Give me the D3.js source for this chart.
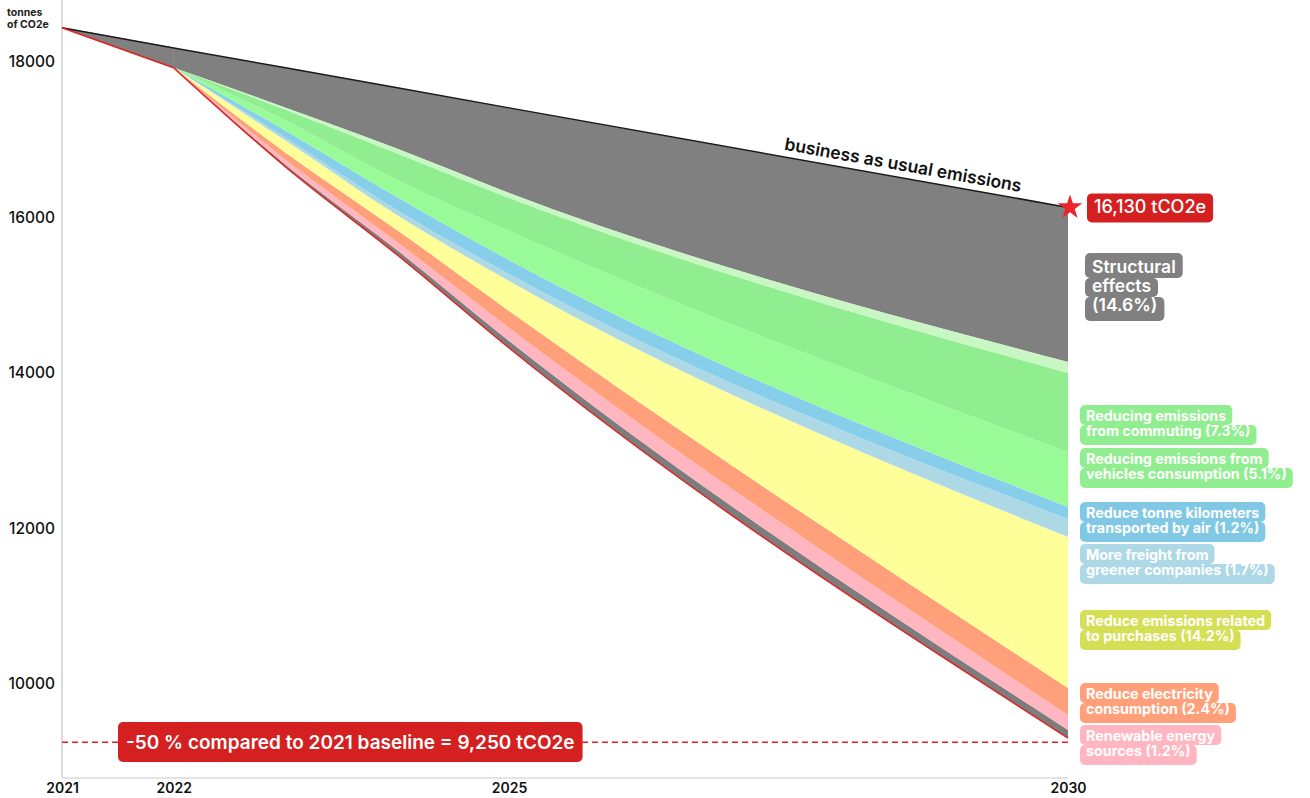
<!DOCTYPE html>
<html>
<head>
<meta charset="utf-8">
<script src="https://cdn.jsdelivr.net/npm/d3@7"></script>
<style>
  body { margin: 0; background: #fff; }
  svg { display: block; font-family: Inter, "Noto Sans", sans-serif; }
</style>
</head>
<body>
<div id="plot"></div>
<script>
// years (only 2021, 2022, 2025, 2030 are labelled)
const years = [2021, 2022, 2023, 2024, 2025, 2030];
const tickYears = [2021, 2022, 2025, 2030];
const tickValues = [10000, 12000, 14000, 16000, 18000];

// business as usual line and the reduced trajectory (tonnes CO2e)
const bau = [18440, 18180, 17925, 17670, 17410, 16130];
const actual = [18440, 17925, 16650, 15518, 14322, 9305];

// reduction layers, bottom to top (tonnes removed each year)
const otherBase = [0, 0, 30, 60, 90, 103];
const renewable = [0, 0, 64, 103, 168, 193];
const electricity = [0, 0, 90, 155, 218, 348];
const purchases = [0, 0, 155, 192, 386, 1942];
const freight = [0, 0, 38, 65, 90, 231];
const air = [0, 0, 90, 167, 180, 155];
const vehicles = [0, 0, 129, 219, 373, 707];
const commuting = [0, 0, 141, 345, 425, 1016];
const commutingTop = [0, 0, 26, 60, 64, 141];

const baseline = 9250;
const target = 16130;

const layerKeys = ['otherBase', 'renewable', 'electricity', 'purchases', 'freight', 'air', 'vehicles', 'commuting', 'commutingTop'];
const layerValues = { otherBase, renewable, electricity, purchases, freight, air, vehicles, commuting, commutingTop };
const layerColors = {
    otherBase: '#7d7d7d', renewable: '#ffb6c1', electricity: '#ffa07a', purchases: '#ffff99',
    freight: '#add8e6', air: '#87ceeb', vehicles: '#98fb98', commuting: '#90ee90', commutingTop: '#c9f7c3'
};

// right hand labels
const labelTexts = [
    ['Structural', 'effects', '(14.6%)'],
    ['Reducing emissions', 'from commuting (7.3%)'],
    ['Reducing emissions from', 'vehicles consumption (5.1%)'],
    ['Reduce tonne kilometers', 'transported by air  (1.2%)'],
    ['More freight from', 'greener companies (1.7%)'],
    ['Reduce emissions related', 'to purchases (14.2%)'],
    ['Reduce electricity', 'consumption (2.4%)'],
    ['Renewable energy', 'sources (1.2%)']
];
const labelColors = ['#808080', '#90ee90', '#90ee90', '#80c8e3', '#add8e6', '#d4df55', '#ffa07a', '#ffb6c1'];

const W = 1310, H = 798;
const svg = d3.select('#plot').append('svg').attr('width', W).attr('height', H);

// scales
let x = d3.scaleLinear().domain([2021, 2030]).range([62, 1068]);
let y = d3.scaleLinear().domain([10000, 18000]).range([684, 62]);

// table for the stack
let rows = years.map((yr, i) => {
    let r = { year: yr, actual: actual[i], bau: bau[i] };
    layerKeys.forEach(k => r[k] = layerValues[k][i]);
    return r;
});
let series = d3.stack().keys(layerKeys)(rows);
let stackTop = series[series.length - 1];

// axes lines
svg.append('line').attr('x1', 62).attr('x2', 62).attr('y1', 0).attr('y2', 778)
    .attr('stroke', '#dcdcdc').attr('stroke-width', 2);
svg.append('line').attr('x1', 62).attr('x2', 1068).attr('y1', 778).attr('y2', 778)
    .attr('stroke', '#e4e4e4').attr('stroke-width', 2);

// first year is a straight drop, reductions start in 2022 and bend smoothly
let smooth = d3.curveMonotoneX;

// structural effects: between top of the stack and business as usual
let structArea = d3.area()
    .x(d => x(d.data.year))
    .y0(d => y(d[1] + d.data.actual))
    .y1(d => y(d.data.bau));
svg.append('path').datum(stackTop.slice(0, 2)).attr('d', structArea)
    .attr('fill', '#808080').attr('stroke', '#808080').attr('stroke-width', 0.8);
svg.append('path').datum(stackTop.slice(1)).attr('d', structArea.curve(smooth))
    .attr('fill', '#808080');

let area = d3.area()
    .x(d => x(d.data.year))
    .y0(d => y(d[0] + d.data.actual))
    .y1(d => y(d[1] + d.data.actual))
    .curve(smooth);
svg.selectAll('path.layer').data(series).enter()
    .append('path')
    .attr('class', 'layer')
    .attr('d', d => area(d.slice(1)))
    .attr('fill', d => layerColors[d.key]);

// lines
let valLine = d3.line().x(d => x(d.year)).y(d => y(d.v));
let bauPts = years.map((yr, i) => ({ year: yr, v: bau[i] }));
let actPts = years.map((yr, i) => ({ year: yr, v: actual[i] }));
svg.append('path').datum(bauPts).attr('d', valLine)
    .attr('fill', 'none').attr('stroke', '#1a1a1a').attr('stroke-width', 1.5);
svg.append('path').datum(actPts.slice(0, 2)).attr('d', valLine)
    .attr('fill', 'none').attr('stroke', '#e42222').attr('stroke-width', 1.5);
svg.append('path').datum(actPts.slice(1)).attr('d', valLine.curve(smooth))
    .attr('fill', 'none').attr('stroke', '#e42222').attr('stroke-width', 1.5);

// y axis
let yAxis = d3.axisLeft(y).tickValues(tickValues).tickSize(0).tickPadding(5).tickFormat(d3.format('d'));
let gy = svg.append('g').attr('transform', 'translate(60,0)').call(yAxis);
gy.select('.domain').remove();
gy.selectAll('text').attr('font-family', 'Inter, sans-serif').attr('font-size', 15.5)
    .attr('font-weight', 500).attr('fill', '#111');

// x axis
let xAxis = d3.axisBottom(x).tickValues(tickYears).tickSize(0).tickPadding(4).tickFormat(d3.format('d'));
let gx = svg.append('g').attr('transform', 'translate(0,779)').call(xAxis);
gx.select('.domain').remove();
gx.selectAll('text').attr('font-family', 'Inter, sans-serif').attr('font-size', 14)
    .attr('font-weight', 600).attr('fill', '#111');

// y unit
svg.append('text').attr('x', 7).attr('y', 16).attr('font-size', 10.5).attr('font-weight', 700)
    .attr('fill', '#222').text('tonnes');
svg.append('text').attr('x', 7).attr('y', 28).attr('font-size', 10.5).attr('font-weight', 700)
    .attr('fill', '#222').text('of CO2e');

// baseline target dashed line
svg.append('line').attr('x1', 62).attr('x2', 1068).attr('y1', y(baseline)).attr('y2', y(baseline))
    .attr('stroke', '#e02424').attr('stroke-width', 1.6).attr('stroke-dasharray', '6,4');

// box with one rounded rect per line
function labelBox(left, topY, lines, color, fs, lh, padX, padT, padB, weight) {
    let g = svg.append('g');
    let texts = lines.map((t, j) => g.append('text')
        .attr('x', left + padX)
        .attr('y', topY + padT + j * lh + lh * 0.76)
        .attr('font-size', fs).attr('font-weight', weight)
        .attr('fill', '#fff').text(t));
    texts.forEach((t, j) => {
        let w = t.node().getComputedTextLength();
        let ry = j == 0 ? topY : topY + padT + j * lh;
        let rh = (j == 0 ? padT + lh : lh) + (j == lines.length - 1 ? padB : 0);
        g.insert('rect', 'text')
            .attr('x', left).attr('y', ry)
            .attr('width', w + padX * 2).attr('height', rh)
            .attr('rx', 5).attr('fill', color);
    });
    return g;
}

labelBox(118, 722, ['-50 % compared to 2021 baseline = 9,250 tCO2e'], '#d42020', 19, 28, 8, 6, 6, 600);

// business as usual label along the line
let ang = Math.atan2(y(bau[5]) - y(bau[0]), x(2030) - x(2021)) * 180 / Math.PI;
let bx = 902, by = y(bau[0]) + (bx - 62) / (1068 - 62) * (y(bau[5]) - y(bau[0]));
svg.append('text')
    .attr('transform', `translate(${bx},${by - 7}) rotate(${ang})`)
    .attr('text-anchor', 'middle').attr('font-size', 17.5).attr('font-weight', 600)
    .attr('fill', '#111').text('business as usual emissions');

// target star and value
svg.append('path')
    .attr('d', d3.symbol(d3.symbolStar).size(190)())
    .attr('transform', `translate(${x(2030) + 2},${y(target)})`)
    .attr('fill', '#e8262a');
labelBox(1087, y(target) - 14, ['16,130 tCO2e'], '#d42020', 18, 21, 7, 4, 4, 500);

// reduction labels
const labelTops = [253, 405, 448, 502, 544, 610, 683, 725];
labelTexts.forEach((lines, i) => {
    if (i == 0) labelBox(1085, labelTops[i], lines, labelColors[i], 17.5, 19, 7, 6, 5, 600);
    else labelBox(1080, labelTops[i], lines, labelColors[i], 14.3, 15, 6, 5, 5, 700);
});
</script>
</body>
</html>
